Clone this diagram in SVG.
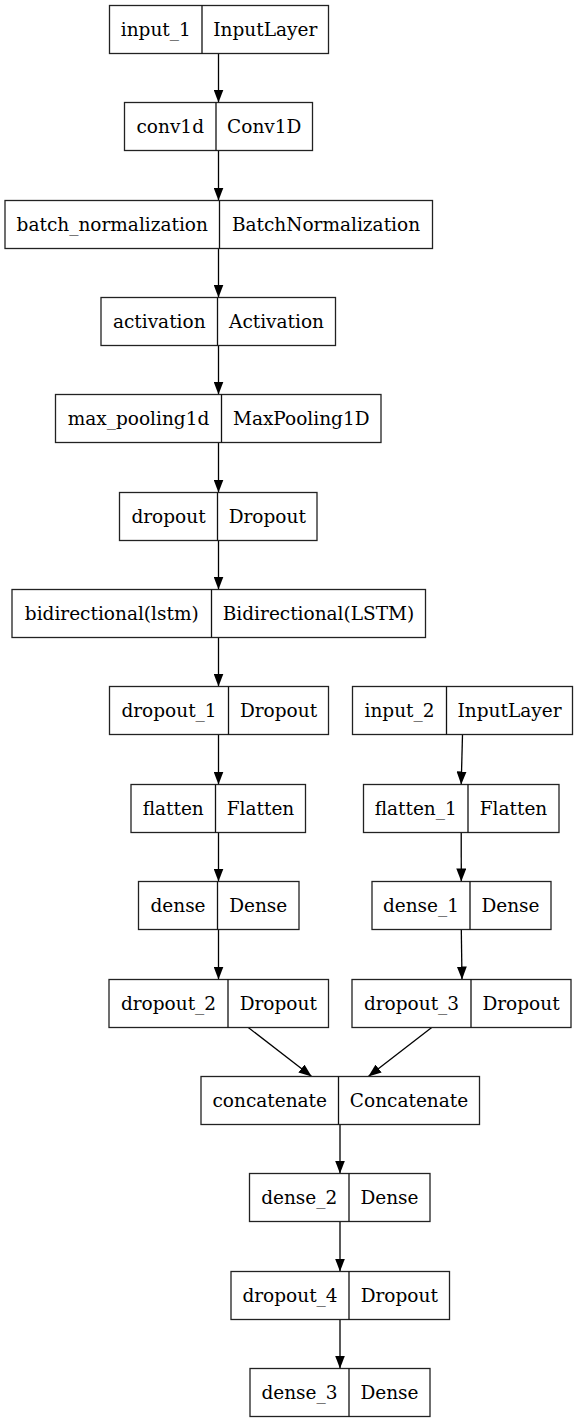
<svg xmlns="http://www.w3.org/2000/svg" width="578" height="1423" viewBox="0 0 578 1423">
<defs>
<style>
.box{fill:#fff;stroke:#222;stroke-width:1.3}
.div{stroke:#111;stroke-width:1.3}
.lbl{font-family:"DejaVu Serif","Liberation Serif",serif;font-size:18.5px;fill:#000;text-anchor:middle}
.edge{stroke:#000;stroke-width:1.3;fill:none;marker-end:url(#ah)}
</style>
<marker id="ah" markerUnits="userSpaceOnUse" markerWidth="13" markerHeight="10" refX="13" refY="5" orient="auto">
<path d="M0,0 L13,5 L0,10 z" fill="#000"/>
</marker>
</defs>
<rect width="578" height="1423" fill="#fff"/>
<g id="connectors">
<line class="edge" x1="218.5" y1="53.5" x2="218.5" y2="102.5"/>
<line class="edge" x1="218.5" y1="150.5" x2="218.5" y2="200.5"/>
<line class="edge" x1="218.5" y1="248.5" x2="218.5" y2="297.5"/>
<line class="edge" x1="218.5" y1="345.5" x2="218.5" y2="394.5"/>
<line class="edge" x1="218.5" y1="442.5" x2="218.5" y2="492.5"/>
<line class="edge" x1="218.5" y1="540.5" x2="218.5" y2="589.5"/>
<line class="edge" x1="218.5" y1="637.5" x2="218.5" y2="686.5"/>
<line class="edge" x1="218.5" y1="734.5" x2="218.5" y2="784.5"/>
<line class="edge" x1="218.5" y1="832.5" x2="218.5" y2="881.5"/>
<line class="edge" x1="218.5" y1="929.5" x2="218.5" y2="979.5"/>
<line class="edge" x1="462.5" y1="734.5" x2="461.2" y2="784.5"/>
<line class="edge" x1="461.2" y1="832.5" x2="461.3" y2="881.5"/>
<line class="edge" x1="461.3" y1="929.5" x2="462" y2="979.5"/>
<line class="edge" x1="248.3" y1="1027.5" x2="311.7" y2="1076.5"/>
<line class="edge" x1="431.7" y1="1027.5" x2="368.3" y2="1076.5"/>
<line class="edge" x1="340" y1="1124.5" x2="340" y2="1173.5"/>
<line class="edge" x1="340" y1="1221.5" x2="340" y2="1271.5"/>
<line class="edge" x1="340" y1="1319.5" x2="340" y2="1368.5"/>
</g>
<g id="input_1"><rect class="box" x="109.5" y="5.5" width="219" height="48"/><line class="div" x1="202" y1="5.5" x2="202" y2="53.5"/><text class="lbl" x="155.75" y="35.5">input_1</text><text class="lbl" x="265.25" y="35.5">InputLayer</text></g>
<g id="conv1d"><rect class="box" x="124.5" y="102.5" width="188" height="48"/><line class="div" x1="216" y1="102.5" x2="216" y2="150.5"/><text class="lbl" x="170.25" y="132.5">conv1d</text><text class="lbl" x="264.25" y="132.5">Conv1D</text></g>
<g id="batch_normalization"><rect class="box" x="5" y="200.5" width="427.5" height="48"/><line class="div" x1="219.5" y1="200.5" x2="219.5" y2="248.5"/><text class="lbl" x="112.25" y="230.5">batch_normalization</text><text class="lbl" x="326" y="230.5">BatchNormalization</text></g>
<g id="activation"><rect class="box" x="101" y="297.5" width="234.5" height="48"/><line class="div" x1="217.5" y1="297.5" x2="217.5" y2="345.5"/><text class="lbl" x="159.25" y="327.5">activation</text><text class="lbl" x="276.5" y="327.5">Activation</text></g>
<g id="max_pooling1d"><rect class="box" x="55.5" y="394.5" width="325.5" height="48"/><line class="div" x1="221.5" y1="394.5" x2="221.5" y2="442.5"/><text class="lbl" x="138.5" y="424.5">max_pooling1d</text><text class="lbl" x="301.25" y="424.5">MaxPooling1D</text></g>
<g id="dropout"><rect class="box" x="119.5" y="492.5" width="197.5" height="48"/><line class="div" x1="217.5" y1="492.5" x2="217.5" y2="540.5"/><text class="lbl" x="168.5" y="522.5">dropout</text><text class="lbl" x="267.25" y="522.5">Dropout</text></g>
<g id="bidirectional"><rect class="box" x="12" y="589.5" width="413.5" height="48"/><line class="div" x1="211.5" y1="589.5" x2="211.5" y2="637.5"/><text class="lbl" x="111.75" y="619.5">bidirectional(lstm)</text><text class="lbl" x="318.5" y="619.5">Bidirectional(LSTM)</text></g>
<g id="dropout_1"><rect class="box" x="109.5" y="686.5" width="219" height="48"/><line class="div" x1="228.5" y1="686.5" x2="228.5" y2="734.5"/><text class="lbl" x="169" y="716.5">dropout_1</text><text class="lbl" x="278.5" y="716.5">Dropout</text></g>
<g id="input_2"><rect class="box" x="352.5" y="686.5" width="220" height="48"/><line class="div" x1="446.5" y1="686.5" x2="446.5" y2="734.5"/><text class="lbl" x="399.5" y="716.5">input_2</text><text class="lbl" x="509.5" y="716.5">InputLayer</text></g>
<g id="flatten"><rect class="box" x="131" y="784.5" width="174.5" height="48"/><line class="div" x1="215.5" y1="784.5" x2="215.5" y2="832.5"/><text class="lbl" x="173.25" y="814.5">flatten</text><text class="lbl" x="260.5" y="814.5">Flatten</text></g>
<g id="flatten_1"><rect class="box" x="363.5" y="784.5" width="195.5" height="48"/><line class="div" x1="468" y1="784.5" x2="468" y2="832.5"/><text class="lbl" x="415.75" y="814.5">flatten_1</text><text class="lbl" x="513.5" y="814.5">Flatten</text></g>
<g id="dense"><rect class="box" x="138.5" y="881.5" width="160.5" height="48"/><line class="div" x1="217.5" y1="881.5" x2="217.5" y2="929.5"/><text class="lbl" x="178" y="911.5">dense</text><text class="lbl" x="258.25" y="911.5">Dense</text></g>
<g id="dense_1"><rect class="box" x="372" y="881.5" width="179" height="48"/><line class="div" x1="470" y1="881.5" x2="470" y2="929.5"/><text class="lbl" x="421" y="911.5">dense_1</text><text class="lbl" x="510.5" y="911.5">Dense</text></g>
<g id="dropout_2"><rect class="box" x="109" y="979.5" width="219.5" height="48"/><line class="div" x1="228" y1="979.5" x2="228" y2="1027.5"/><text class="lbl" x="168.5" y="1009.5">dropout_2</text><text class="lbl" x="278.25" y="1009.5">Dropout</text></g>
<g id="dropout_3"><rect class="box" x="352" y="979.5" width="219" height="48"/><line class="div" x1="471" y1="979.5" x2="471" y2="1027.5"/><text class="lbl" x="411.5" y="1009.5">dropout_3</text><text class="lbl" x="521" y="1009.5">Dropout</text></g>
<g id="concatenate"><rect class="box" x="201" y="1076.5" width="278.5" height="48"/><line class="div" x1="338.5" y1="1076.5" x2="338.5" y2="1124.5"/><text class="lbl" x="269.75" y="1106.5">concatenate</text><text class="lbl" x="409" y="1106.5">Concatenate</text></g>
<g id="dense_2"><rect class="box" x="249.5" y="1173.5" width="180.5" height="48"/><line class="div" x1="349" y1="1173.5" x2="349" y2="1221.5"/><text class="lbl" x="299.25" y="1203.5">dense_2</text><text class="lbl" x="389.5" y="1203.5">Dense</text></g>
<g id="dropout_4"><rect class="box" x="231" y="1271.5" width="218.5" height="48"/><line class="div" x1="349" y1="1271.5" x2="349" y2="1319.5"/><text class="lbl" x="290" y="1301.5">dropout_4</text><text class="lbl" x="399.25" y="1301.5">Dropout</text></g>
<g id="dense_3"><rect class="box" x="250" y="1368.5" width="180" height="48"/><line class="div" x1="349" y1="1368.5" x2="349" y2="1416.5"/><text class="lbl" x="299.5" y="1398.5">dense_3</text><text class="lbl" x="389.5" y="1398.5">Dense</text></g>
</svg>
